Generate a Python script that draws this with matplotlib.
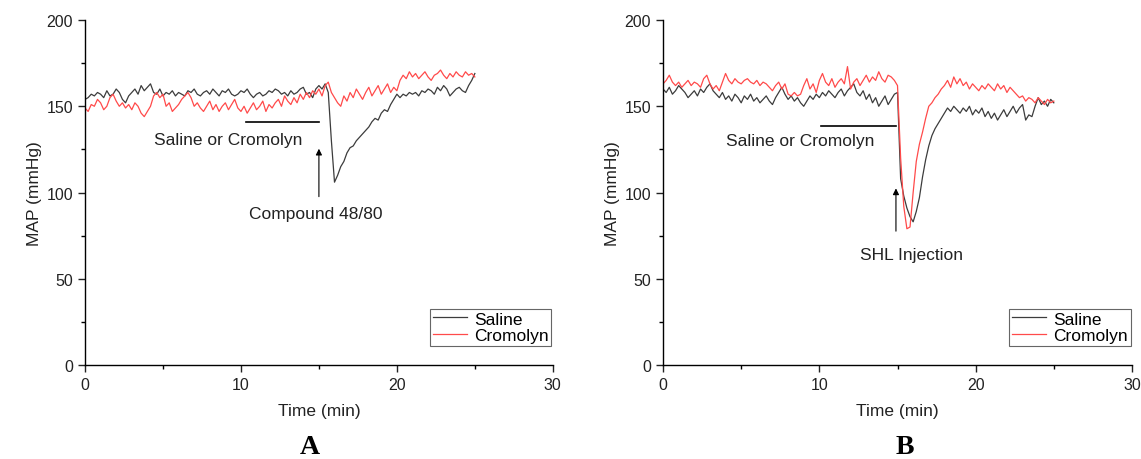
import numpy as np
import matplotlib
matplotlib.use("Agg")
import matplotlib.pyplot as plt
from matplotlib.ticker import MultipleLocator

plt.rcParams['font.family'] = ['Liberation Sans', 'DejaVu Sans']

# time grid (min), one sample every 0.2 min
time = np.round(np.arange(0, 25.001, 0.2), 1)

# panel A: compound 48/80
a_saline = [154, 155, 157, 156, 158, 157, 155, 159, 156, 157, 160, 158, 154, 152, 156,
            158, 160, 157, 162, 159, 161, 163, 158, 157, 160, 156, 158, 157, 159, 156,
            158, 157, 156, 159, 158, 160, 157, 156, 158, 159, 157, 160, 158, 156, 159,
            158, 160, 157, 156, 157, 159, 158, 160, 157, 155, 157, 158, 156, 157, 159,
            158, 160, 159, 157, 158, 156, 159, 157, 158, 160, 161, 157, 158, 155, 160,
            162, 160, 163, 158, 130, 106, 110, 115, 118, 123, 126, 127, 130, 132, 134,
            136, 138, 141, 143, 142, 146, 148, 147, 151, 154, 157, 155, 157, 156, 158,
            157, 158, 156, 159, 158, 160, 159, 157, 161, 159, 162, 160, 156, 158, 160,
            161, 159, 158, 162, 165, 169]
a_cromolyn = [149, 147, 151, 150, 154, 152, 148, 150, 155, 157, 153, 150, 152, 149, 151,
              148, 152, 150, 146, 144, 147, 150, 156, 158, 155, 157, 150, 152, 147, 149,
              151, 154, 156, 158, 155, 150, 152, 149, 147, 150, 153, 148, 151, 147, 150,
              152, 148, 151, 154, 149, 147, 150, 146, 149, 152, 148, 150, 153, 147, 151,
              149, 152, 154, 150, 156, 153, 151, 155, 152, 157, 154, 158, 155, 159, 157,
              160, 156, 162, 164, 158, 155, 152, 150, 156, 153, 158, 155, 160, 157, 154,
              158, 161, 156, 159, 162, 157, 160, 163, 158, 161, 159, 165, 168, 166, 170,
              167, 169, 166, 168, 170, 167, 165, 168, 169, 171, 168, 166, 169, 167, 170,
              168, 167, 170, 168, 169, 167]

# panel B: SHL injection
b_saline = [160, 158, 161, 157, 159, 162, 160, 158, 155, 157, 159, 156, 160, 158, 161,
            163, 159, 157, 155, 158, 154, 156, 153, 157, 155, 152, 156, 154, 157, 153,
            155, 152, 154, 156, 153, 151, 155, 158, 161, 157, 154, 156, 153, 155, 152,
            150, 153, 156, 154, 157, 155, 158, 156, 159, 157, 155, 158, 160, 156, 159,
            161, 163, 158, 156, 159, 154, 157, 152, 155, 150, 153, 156, 151, 154, 157,
            158, 108, 98, 91, 86, 83, 89, 97, 109, 119, 127, 133, 137, 140, 143,
            146, 149, 147, 150, 148, 146, 149, 147, 150, 145, 148, 146, 149, 144, 147,
            143, 146, 142, 145, 148, 144, 147, 150, 146, 149, 151, 142, 145, 144, 150,
            155, 151, 153, 150, 154, 152]
b_cromolyn = [163, 165, 168, 164, 162, 164, 161, 163, 165, 162, 164, 163, 161, 166, 168,
              163, 160, 162, 159, 164, 169, 165, 163, 166, 164, 163, 165, 166, 164, 163,
              165, 162, 164, 163, 161, 159, 162, 164, 160, 163, 157, 156, 158, 156, 157,
              162, 166, 160, 163, 158, 165, 169, 164, 162, 166, 161, 164, 166, 163, 173,
              160, 164, 166, 162, 165, 168, 164, 167, 165, 170, 166, 164, 168, 167, 165,
              162, 120, 92, 79, 80, 100, 118, 128, 135, 143, 150, 152, 155, 157, 160,
              162, 165, 161, 167, 163, 166, 162, 164, 160, 163, 161, 159, 162, 160, 163,
              161, 159, 163, 160, 162, 158, 161, 159, 157, 155, 156, 153, 155, 154, 152,
              155, 153, 151, 154, 152, 153]

black = '#3c3c3c'
red = '#ff4a4a'
txt = '#222222'

fig = plt.figure(figsize=(11.41, 4.6), dpi=100)
ax1 = fig.add_axes([0.0745, 0.2043, 0.410, 0.750])
ax2 = fig.add_axes([0.5811, 0.2043, 0.411, 0.750])

for ax, sal, cro in [(ax1, a_saline, a_cromolyn), (ax2, b_saline, b_cromolyn)]:
    ax.plot(time, sal, color=black, lw=0.9, label='Saline')
    ax.plot(time, cro, color=red, lw=0.9, label='Cromolyn')
    ax.set_xlim(0, 30)
    ax.set_ylim(0, 200)
    ax.spines['top'].set_visible(False)
    ax.spines['right'].set_visible(False)
    ax.spines['left'].set_linewidth(1.0)
    ax.spines['bottom'].set_linewidth(1.0)
    ax.xaxis.set_major_locator(MultipleLocator(10))
    ax.xaxis.set_minor_locator(MultipleLocator(5))
    ax.yaxis.set_major_locator(MultipleLocator(50))
    ax.yaxis.set_minor_locator(MultipleLocator(25))
    ax.tick_params(which='major', direction='out', length=5, width=1, labelsize=11.5, colors=txt)
    ax.tick_params(which='minor', direction='out', length=3, width=1)
    ax.set_xlabel('Time (min)', fontsize=12.5, color=txt, labelpad=8)
    ax.set_ylabel('MAP (mmHg)', fontsize=12.5, color=txt, labelpad=3)
    leg = ax.legend(loc='lower right', bbox_to_anchor=(0.997, 0.055), fontsize=12.5,
                    fancybox=False, framealpha=1, edgecolor='#666666',
                    handlelength=2.0, borderpad=0.15, labelspacing=0.1, handletextpad=0.4,
                    borderaxespad=0.0)
    leg.get_frame().set_linewidth(0.8)

# annotations, panel A
ax1.plot([10.3, 15.0], [141, 141], color='k', lw=1.2)
ax1.text(9.2, 131, 'Saline or Cromolyn', ha='center', va='center', fontsize=12.5, color=txt)
ax1.annotate('', xy=(15.0, 127), xytext=(15.0, 96),
             arrowprops=dict(arrowstyle='-|>', color='k', lw=0.8, mutation_scale=9))
ax1.text(14.8, 88, 'Compound 48/80', ha='center', va='center', fontsize=12.5, color=txt)

# annotations, panel B
ax2.plot([10.1, 14.9], [138.5, 138.5], color='k', lw=1.2)
ax2.text(8.8, 130, 'Saline or Cromolyn', ha='center', va='center', fontsize=12.5, color=txt)
ax2.annotate('', xy=(14.9, 104), xytext=(14.9, 76),
             arrowprops=dict(arrowstyle='-|>', color='k', lw=0.8, mutation_scale=9))
ax2.text(15.9, 64, 'SHL Injection', ha='center', va='center', fontsize=12.5, color=txt)

fig.text(310 / 1141, 1 - 448 / 460, 'A', ha='center', va='center', fontsize=20,
         fontweight='bold', family='Liberation Serif')
fig.text(905 / 1141, 1 - 448 / 460, 'B', ha='center', va='center', fontsize=20,
         fontweight='bold', family='Liberation Serif')

fig.savefig('out.png', dpi=100)
